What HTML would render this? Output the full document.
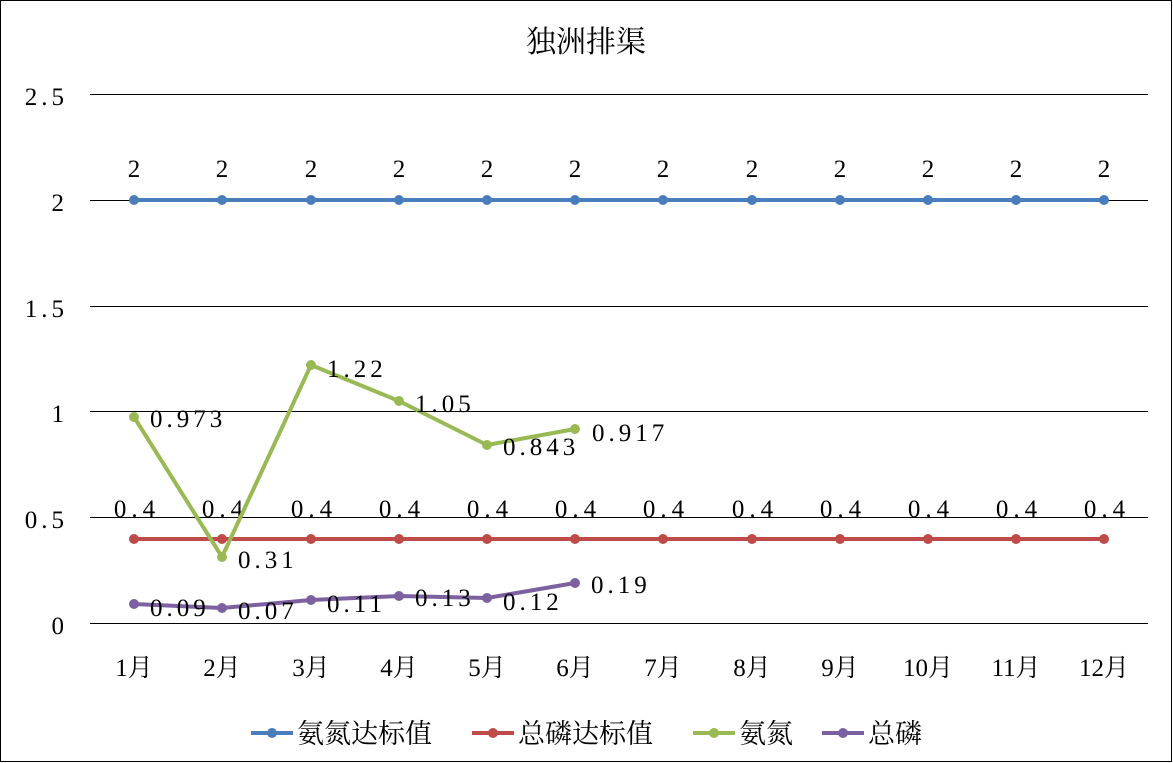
<!DOCTYPE html>
<html><head><meta charset="utf-8"><style>
html,body{margin:0;padding:0;background:#fff}
svg{display:block}
text{font-family:"Liberation Serif","Noto Serif CJK SC",serif;fill:#000}
</style></head><body>
<svg width="1173" height="763" viewBox="0 0 1173 763">
<rect x="0.5" y="0.5" width="1171" height="761" fill="#fff" stroke="#000" stroke-width="1"/>
<text x="586" y="52" font-size="30" text-anchor="middle">独洲排渠</text>
<g stroke="#000" stroke-width="1">
<line x1="90" y1="94.5" x2="1148" y2="94.5"/>
<line x1="90" y1="200.5" x2="1148" y2="200.5"/>
<line x1="90" y1="306.5" x2="1148" y2="306.5"/>
<line x1="90" y1="411.5" x2="1148" y2="411.5"/>
<line x1="90" y1="517.5" x2="1148" y2="517.5"/>
<line x1="90" y1="623.5" x2="1148" y2="623.5"/>
</g>
<g font-size="25" text-anchor="end" letter-spacing="4">
<text x="68" y="105">2.5</text>
<text x="68" y="211">2</text>
<text x="68" y="317">1.5</text>
<text x="68" y="422">1</text>
<text x="68" y="528">0.5</text>
<text x="68" y="634">0</text>
</g>
<g font-size="25" text-anchor="middle">
<text x="134" y="676">1月</text><text x="222" y="676">2月</text><text x="311" y="676">3月</text><text x="399" y="676">4月</text><text x="487" y="676">5月</text><text x="575" y="676">6月</text><text x="663" y="676">7月</text><text x="752" y="676">8月</text><text x="840" y="676">9月</text><text x="928" y="676">10月</text><text x="1016" y="676">11月</text><text x="1104" y="676">12月</text>
</g>
<polyline fill="none" stroke="#4a7ebb" stroke-width="4" points="134,200 222,200 311,200 399,200 487,200 575,200 663,200 752,200 840,200 928,200 1016,200 1104,200"/>
<g fill="#4a7ebb"><circle cx="134" cy="200" r="5"/><circle cx="222" cy="200" r="5"/><circle cx="311" cy="200" r="5"/><circle cx="399" cy="200" r="5"/><circle cx="487" cy="200" r="5"/><circle cx="575" cy="200" r="5"/><circle cx="663" cy="200" r="5"/><circle cx="752" cy="200" r="5"/><circle cx="840" cy="200" r="5"/><circle cx="928" cy="200" r="5"/><circle cx="1016" cy="200" r="5"/><circle cx="1104" cy="200" r="5"/></g>
<g font-size="25" text-anchor="middle">
<text x="134" y="177">2</text><text x="222" y="177">2</text><text x="311" y="177">2</text><text x="399" y="177">2</text><text x="487" y="177">2</text><text x="575" y="177">2</text><text x="663" y="177">2</text><text x="752" y="177">2</text><text x="840" y="177">2</text><text x="928" y="177">2</text><text x="1016" y="177">2</text><text x="1104" y="177">2</text>
</g>
<polyline fill="none" stroke="#be4b48" stroke-width="4" points="134,539 222,539 311,539 399,539 487,539 575,539 663,539 752,539 840,539 928,539 1016,539 1104,539"/>
<g fill="#be4b48"><circle cx="134" cy="539" r="5"/><circle cx="222" cy="539" r="5"/><circle cx="311" cy="539" r="5"/><circle cx="399" cy="539" r="5"/><circle cx="487" cy="539" r="5"/><circle cx="575" cy="539" r="5"/><circle cx="663" cy="539" r="5"/><circle cx="752" cy="539" r="5"/><circle cx="840" cy="539" r="5"/><circle cx="928" cy="539" r="5"/><circle cx="1016" cy="539" r="5"/><circle cx="1104" cy="539" r="5"/></g>
<g font-size="25" text-anchor="middle" letter-spacing="5">
<text x="137" y="517">0.4</text><text x="225" y="517">0.4</text><text x="314" y="517">0.4</text><text x="402" y="517">0.4</text><text x="490" y="517">0.4</text><text x="578" y="517">0.4</text><text x="666" y="517">0.4</text><text x="755" y="517">0.4</text><text x="843" y="517">0.4</text><text x="931" y="517">0.4</text><text x="1019" y="517">0.4</text><text x="1107" y="517">0.4</text>
</g>
<polyline fill="none" stroke="#98b954" stroke-width="4" stroke-linejoin="round" points="134,417 222,557 311,365 399,401 487,445 575,429"/>
<g fill="#98b954"><circle cx="134" cy="417" r="5"/><circle cx="222" cy="557" r="5"/><circle cx="311" cy="365" r="5"/><circle cx="399" cy="401" r="5"/><circle cx="487" cy="445" r="5"/><circle cx="575" cy="429" r="5"/></g>
<polyline fill="none" stroke="#7d60a0" stroke-width="4" stroke-linejoin="round" points="134,604 222,608 311,600 399,596 487,598 575,583"/>
<g fill="#7d60a0"><circle cx="134" cy="604" r="5"/><circle cx="222" cy="608" r="5"/><circle cx="311" cy="600" r="5"/><circle cx="399" cy="596" r="5"/><circle cx="487" cy="598" r="5"/><circle cx="575" cy="583" r="5"/></g>
<g font-size="25" letter-spacing="4">
<text x="150" y="427">0.973</text><text x="238" y="568">0.31</text><text x="327" y="377">1.22</text><text x="415" y="412">1.05</text><text x="503" y="455">0.843</text><text x="592" y="441">0.917</text>
<text x="150" y="616">0.09</text><text x="238" y="619">0.07</text><text x="327" y="612">0.11</text><text x="415" y="606">0.13</text><text x="503" y="610">0.12</text><text x="591" y="593">0.19</text>
</g>
<g font-size="27">
<line x1="251" y1="733" x2="293" y2="733" stroke="#4a7ebb" stroke-width="4"/><circle cx="272" cy="733" r="5" fill="#4a7ebb"/>
<text x="297" y="743">氨氮达标值</text>
<line x1="472" y1="733" x2="514" y2="733" stroke="#be4b48" stroke-width="4"/><circle cx="493" cy="733" r="5" fill="#be4b48"/>
<text x="518" y="743">总磷达标值</text>
<line x1="693" y1="733" x2="735" y2="733" stroke="#98b954" stroke-width="4"/><circle cx="714" cy="733" r="5" fill="#98b954"/>
<text x="739" y="743">氨氮</text>
<line x1="822" y1="733" x2="864" y2="733" stroke="#7d60a0" stroke-width="4"/><circle cx="843" cy="733" r="5" fill="#7d60a0"/>
<text x="868" y="743">总磷</text>
</g>
</svg>
</body></html>
